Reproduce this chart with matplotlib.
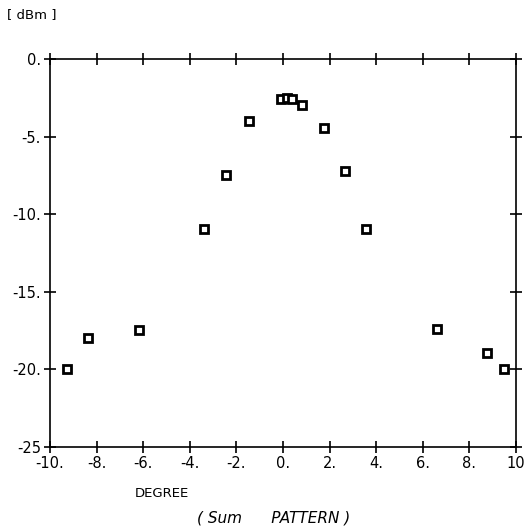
import matplotlib
matplotlib.use("Agg")
import matplotlib.pyplot as plt

# sum pattern measurement (degree vs dBm)
degree = [-9.25, -8.35, -6.2, -3.4, -2.45, -1.45, -0.1, 0.15, 0.4, 0.8,
          1.75, 2.65, 3.55, 6.6, 8.75, 9.5]
level = [-20.0, -18.0, -17.45, -10.95, -7.45, -4.0, -2.55, -2.5, -2.6, -2.95,
         -4.45, -7.2, -10.95, -17.4, -18.95, -20.0]

xticks = [-10, -8, -6, -4, -2, 0, 2, 4, 6, 8, 10]
xlabels = ["-10.", "-8.", "-6.", "-4.", "-2.", "0.", "2.", "4.", "6.", "8.", "10"]
yticks = [0, -5, -10, -15, -20, -25]
ylabels = ["0.", "-5.", "-10.", "-15.", "-20.", "-25"]

plt.rcParams['font.family'] = ['DejaVu Sans']

fig = plt.figure(figsize=(5.26, 5.32), dpi=100)
ax = fig.add_axes([0.0951, 0.1598, 0.886, 0.7293])

ax.plot(degree, level, linestyle="none", marker="s", markersize=5.5,
        markerfacecolor="white", markeredgecolor="black", markeredgewidth=2)

ax.set_xlim(-10, 10)
ax.set_ylim(-25, 0)
ax.set_xticks(xticks)
ax.set_xticklabels(xlabels)
ax.set_yticks(yticks)
ax.set_yticklabels(ylabels)
ax.tick_params(direction="inout", length=9, width=1.2, labelsize=10.5,
               top=True, right=True, pad=2)
for s in ax.spines.values():
    s.set_linewidth(1.2)

fig.text(0.013, 0.972, "[ dBm ]", fontsize=9.5, ha="left", va="center")
fig.text(0.257, 0.073, "DEGREE", fontsize=9.5, ha="left", va="center")
fig.text(0.375, 0.027, "( Sum      PATTERN )", fontsize=11, style="italic",
         ha="left", va="center")

fig.savefig("out.png", dpi=100)
